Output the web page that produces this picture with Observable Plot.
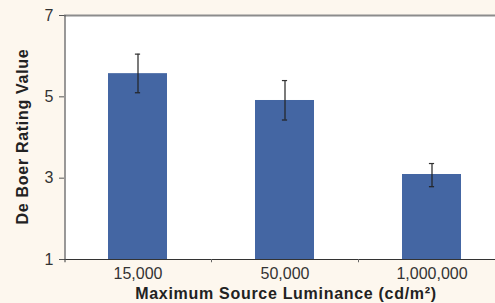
<!DOCTYPE html>
<html><head><meta charset="utf-8">
<script src="https://cdn.jsdelivr.net/npm/d3@7"></script>
<script src="https://cdn.jsdelivr.net/npm/@observablehq/plot@0.6"></script>
<style>
html,body{margin:0;padding:0;background:#fdf7ee;overflow:hidden;}
#chart svg{display:block;overflow:visible;}
.lbl text{font-weight:bold;letter-spacing:0.7px;}
</style>
</head><body><div id="chart"></div>
<script>
const categories = ["15,000", "50,000", "1,000,000"];
const ratings = [5.57, 4.91, 3.09];
const errLow = [5.10, 4.43, 2.79];
const errHigh = [6.05, 5.40, 3.36];
const yTicks = [1, 3, 5, 7];
const xTitle = "Maximum Source Luminance (cd/m²)";
const yTitle = "De Boer Rating Value";

const data = categories.map((c, i) => ({c, v: ratings[i], lo: errLow[i], hi: errHigh[i]}));
const step = 147;

const chart = Plot.plot({
  width: 495, height: 303,
  marginLeft: 64, marginTop: 15, marginBottom: 44, marginRight: 0,
  style: {background: "transparent", fontFamily: "Liberation Sans, Arial, sans-serif", color: "#333"},
  x: {domain: categories, range: [64, 505], paddingInner: 0.6, paddingOuter: 0.3},
  y: {domain: [1, 7]},
  marks: [
    Plot.frame({fill: "white", stroke: null}),
    Plot.barY(data, {x: "c", y1: 1, y2: "v", fill: "#4466a3"}),
    Plot.ruleX(data, {x: "c", y1: "lo", y2: "hi", stroke: "#222", strokeWidth: 1.2}),
    Plot.tickY(data, {x: "c", y: "lo", stroke: "#222", strokeWidth: 1.2, insetLeft: 26.9, insetRight: 26.9}),
    Plot.tickY(data, {x: "c", y: "hi", stroke: "#333", strokeWidth: 1.2, insetLeft: 26.9, insetRight: 26.9}),
    Plot.ruleY([7], {stroke: "#8c8c8c", strokeWidth: 2}),
    Plot.ruleY([1], {stroke: "#333", strokeWidth: 1}),
    Plot.ruleX(categories.slice(1), {y1: 1, y2: 0.92, dx: -step / 2, stroke: "#666"}),
    Plot.ruleX(categories.slice(0, 1), {y1: 0.92, y2: 7, dx: -step / 2 + 0.5, stroke: "#555", strokeWidth: 1.2}),
    Plot.axisY({ticks: yTicks, tickFormat: d3.format("d"), tickSize: 5, tickPadding: 6, fontSize: 16, stroke: "#555", label: null}),
    Plot.axisX({tickSize: 0, tickPadding: 8, fontSize: 16, label: null}),
    Plot.text([xTitle], {frameAnchor: "bottom", textAnchor: "middle", dx: 6, dy: 39, fontSize: 16, fill: "#222", className: "lbl"}),
    Plot.text([yTitle], {frameAnchor: "left", textAnchor: "middle", rotate: -90, dx: -42, dy: -1, fontSize: 16, fill: "#222", className: "lbl"})
  ]
});
document.getElementById("chart").appendChild(chart);
</script>
</body></html>
